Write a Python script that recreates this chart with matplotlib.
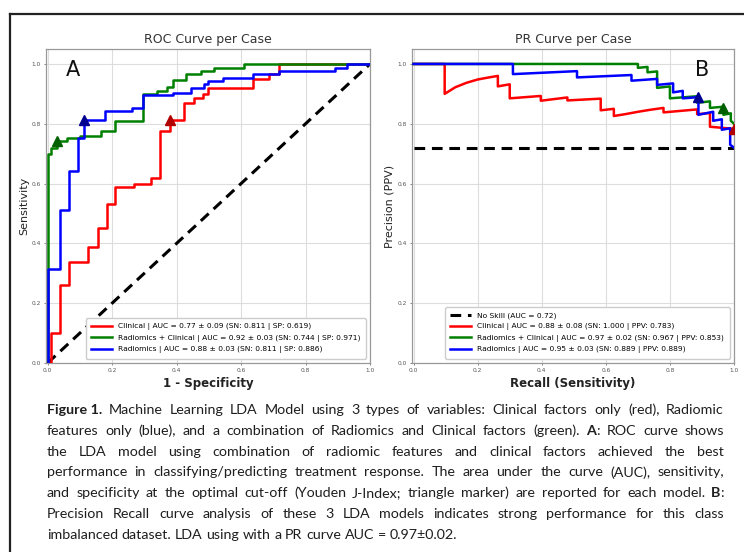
import matplotlib
matplotlib.use("Agg")
import matplotlib.pyplot as plt
from matplotlib.lines import Line2D

# ---------------- data ----------------
ticks = [0.0, 0.2, 0.4, 0.6, 0.8, 1.0]

roc_clin_fpr = [0, 0.01, 0.01, 0.037, 0.037, 0.066, 0.066, 0.125, 0.125, 0.155, 0.155, 0.183, 0.183,
                0.21, 0.21, 0.267, 0.267, 0.32, 0.32, 0.348, 0.348, 0.381, 0.381, 0.423, 0.423, 0.453,
                0.453, 0.481, 0.481, 0.497, 0.497, 0.636, 0.636, 0.686, 0.686, 0.718, 0.718, 1.0]
roc_clin_tpr = [0, 0, 0.10, 0.10, 0.26, 0.26, 0.337, 0.337, 0.387, 0.387, 0.453, 0.453, 0.533,
                0.533, 0.59, 0.59, 0.60, 0.60, 0.62, 0.62, 0.777, 0.777, 0.811, 0.811, 0.87, 0.87,
                0.887, 0.887, 0.90, 0.90, 0.92, 0.92, 0.95, 0.95, 0.967, 0.967, 1.0, 1.0]

roc_comb_fpr = [0, 0, 0.012, 0.012, 0.029, 0.029, 0.06, 0.06, 0.10, 0.10, 0.165, 0.165, 0.21, 0.21,
                0.295, 0.295, 0.34, 0.34, 0.37, 0.37, 0.39, 0.39, 0.43, 0.43, 0.475, 0.475, 0.516,
                0.516, 0.61, 0.61, 1.0]
roc_comb_tpr = [0, 0.70, 0.70, 0.72, 0.72, 0.744, 0.744, 0.752, 0.752, 0.76, 0.76, 0.777, 0.777, 0.81,
                0.81, 0.90, 0.90, 0.91, 0.91, 0.923, 0.923, 0.947, 0.947, 0.967, 0.967, 0.977, 0.977,
                0.987, 0.987, 1.0, 1.0]

roc_rad_fpr = [0, 0, 0.038, 0.038, 0.066, 0.066, 0.095, 0.095, 0.114, 0.114, 0.178, 0.178, 0.263,
               0.263, 0.295, 0.295, 0.388, 0.388, 0.444, 0.444, 0.484, 0.484, 0.497, 0.497, 0.543,
               0.543, 0.636, 0.636, 0.718, 0.718, 0.89, 0.89, 0.93, 0.93, 1.0]
roc_rad_tpr = [0, 0.313, 0.313, 0.51, 0.51, 0.643, 0.643, 0.753, 0.753, 0.811, 0.811, 0.843, 0.843,
               0.853, 0.853, 0.897, 0.897, 0.903, 0.903, 0.92, 0.92, 0.933, 0.933, 0.943, 0.943,
               0.953, 0.953, 0.967, 0.967, 0.977, 0.977, 0.987, 0.987, 1.0, 1.0]

roc_opt_fpr = {"clin": 0.381, "comb": 0.029, "rad": 0.114}
roc_opt_tpr = {"clin": 0.811, "comb": 0.744, "rad": 0.811}

pr_clin_rec = [0, 0.097, 0.097, 0.13, 0.165, 0.20, 0.235, 0.263, 0.263, 0.30, 0.30, 0.397, 0.397,
               0.48, 0.48, 0.584, 0.584, 0.625, 0.625, 0.66, 0.70, 0.74, 0.78, 0.78, 0.885, 0.885,
               0.925, 0.925, 1.0]
pr_clin_prec = [1.0, 1.0, 0.90, 0.922, 0.937, 0.948, 0.955, 0.96, 0.925, 0.932, 0.885, 0.893, 0.877,
                0.888, 0.878, 0.884, 0.845, 0.85, 0.826, 0.832, 0.84, 0.847, 0.853, 0.838, 0.848,
                0.832, 0.836, 0.79, 0.783]

pr_comb_rec = [0, 0.70, 0.70, 0.73, 0.73, 0.76, 0.76, 0.80, 0.80, 0.885, 0.885, 0.925, 0.925, 0.967,
               0.967, 0.99, 0.99, 1.0]
pr_comb_prec = [1.0, 1.0, 0.987, 0.99, 0.972, 0.975, 0.92, 0.925, 0.885, 0.892, 0.87, 0.875, 0.853,
                0.857, 0.83, 0.835, 0.81, 0.80]

pr_rad_rec = [0, 0.31, 0.31, 0.51, 0.51, 0.68, 0.68, 0.76, 0.76, 0.81, 0.81, 0.84, 0.84, 0.889,
              0.889, 0.935, 0.935, 0.962, 0.962, 0.988, 0.988, 1.0]
pr_rad_prec = [1.0, 1.0, 0.966, 0.976, 0.955, 0.963, 0.944, 0.95, 0.93, 0.935, 0.905, 0.91, 0.885,
               0.889, 0.83, 0.84, 0.81, 0.815, 0.78, 0.785, 0.73, 0.72]

pr_opt_rec = {"clin": 1.0, "comb": 0.967, "rad": 0.889}
pr_opt_prec = {"clin": 0.783, "comb": 0.853, "rad": 0.889}

no_skill = 0.72

roc_labels = {
    "clin": "Clinical | AUC = 0.77 \u00b1 0.09 (SN: 0.811 | SP: 0.619)",
    "comb": "Radiomics + Clinical | AUC = 0.92 \u00b1 0.03 (SN: 0.744 | SP: 0.971)",
    "rad": "Radiomics | AUC = 0.88 \u00b1 0.03 (SN: 0.811 | SP: 0.886)",
}
pr_labels = {
    "skill": "No Skill (AUC = 0.72)",
    "clin": "Clinical | AUC = 0.88 \u00b1 0.08 (SN: 1.000 | PPV: 0.783)",
    "comb": "Radiomics + Clinical | AUC = 0.97 \u00b1 0.02 (SN: 0.967 | PPV: 0.853)",
    "rad": "Radiomics | AUC = 0.95 \u00b1 0.03 (SN: 0.889 | PPV: 0.889)",
}

caption_lines = [
    [[("Figure 1.", "bold")], "Machine Learning LDA Model using 3 types of variables: Clinical factors only (red), Radiomic"],
    "features only (blue), and a combination of Radiomics and Clinical factors (green). @A: ROC curve shows",
    "the LDA model using combination of radiomic features and clinical factors achieved the best",
    "performance in classifying/predicting treatment response. The area under the curve (AUC), sensitivity,",
    "and specificity at the optimal cut-off (Youden J-Index; triangle marker) are reported for each model. @B:",
    "Precision Recall curve analysis of these 3 LDA models indicates strong performance for this class",
    "imbalanced dataset. LDA using with a PR curve AUC = 0.97\u00b10.02.",
]

# ---------------- figure ----------------
W, H = 744, 552
fig = plt.figure(figsize=(W / 100, H / 100), dpi=100)
fig.patch.set_facecolor("white")

# page border (left and top)
fig.add_artist(Line2D([10 / W, 10 / W], [0, 1 - 14 / H], color="#222222", lw=1.6))
fig.add_artist(Line2D([10 / W, 1], [1 - 14 / H, 1 - 14 / H], color="#222222", lw=1.6))

axL = fig.add_axes([46 / W, 1 - 363 / H, 324 / W, 314 / H])
axR = fig.add_axes([412 / W, 1 - 363 / H, 322 / W, 314 / H])

colors = {"clin": "red", "comb": "green", "rad": "blue"}
mcolors = {"clin": "#b00000", "comb": "#006000", "rad": "#000090"}

for ax in (axL, axR):
    ax.set_xlim(-0.005, 1.0)
    ax.set_ylim(0, 1.05)
    ax.set_xticks(ticks)
    ax.set_yticks(ticks)
    ax.set_xticklabels([f"{t:.1f}" for t in ticks])
    ax.set_yticklabels([f"{t:.1f}" for t in ticks])
    ax.tick_params(labelsize=4.2, length=1.5, width=0.5, colors="#555555", pad=2)
    ax.grid(True, color="#dddddd", lw=0.8)
    ax.set_axisbelow(True)
    for s in ax.spines.values():
        s.set_color("#999999")
        s.set_linewidth(0.9)

leg_kw = dict(loc="lower right", fontsize=5.4, frameon=True, handlelength=2.8, borderpad=0.7,
              labelspacing=0.55, framealpha=1, edgecolor="#cccccc", borderaxespad=0.6)

# ROC
axL.plot([0, 1], [0, 1], color="black", ls=(0, (3.5, 2.2)), lw=2.2, zorder=2)
axL.plot(roc_clin_fpr, roc_clin_tpr, color=colors["clin"], lw=1.8, label=roc_labels["clin"], zorder=3)
axL.plot(roc_comb_fpr, roc_comb_tpr, color=colors["comb"], lw=1.8, label=roc_labels["comb"], zorder=3)
axL.plot(roc_rad_fpr, roc_rad_tpr, color=colors["rad"], lw=1.8, label=roc_labels["rad"], zorder=4)
for k in ("clin", "comb", "rad"):
    axL.plot(roc_opt_fpr[k], roc_opt_tpr[k], marker="^", ms=7, color=mcolors[k], ls="none", zorder=5)
axL.set_title("ROC Curve per Case", fontsize=9, pad=4, color="#333333")
axL.set_xlabel("1 - Specificity", fontsize=8.5, fontweight="bold", labelpad=3, color="#222222")
axL.set_ylabel("Sensitivity", fontsize=8, labelpad=2, color="#222222")
axL.text(0.078, 0.98, "A", fontsize=15, ha="center", va="center", color="#111111")
axL.legend(**leg_kw)

# PR
axR.plot([0, 1], [no_skill, no_skill], color="black", ls=(0, (3.5, 2.2)), lw=2.2, label=pr_labels["skill"], zorder=2)
axR.plot(pr_clin_rec, pr_clin_prec, color=colors["clin"], lw=1.8, label=pr_labels["clin"], zorder=3)
axR.plot(pr_comb_rec, pr_comb_prec, color=colors["comb"], lw=1.8, label=pr_labels["comb"], zorder=3)
axR.plot(pr_rad_rec, pr_rad_prec, color=colors["rad"], lw=1.8, label=pr_labels["rad"], zorder=4)
for k in ("clin", "comb", "rad"):
    axR.plot(pr_opt_rec[k], pr_opt_prec[k], marker="^", ms=7, color=mcolors[k], ls="none", zorder=5)
axR.set_title("PR Curve per Case", fontsize=9, pad=4, color="#333333")
axR.set_xlabel("Recall (Sensitivity)", fontsize=8.5, fontweight="bold", labelpad=3, color="#222222")
axR.set_ylabel("Precision (PPV)", fontsize=8, labelpad=2, color="#222222")
axR.text(0.90, 0.98, "B", fontsize=15, ha="center", va="center", color="#111111")
axR.legend(**leg_kw)

# ---------------- caption (justified) ----------------
CAP_FONT = ["Lato", "DejaVu Sans"]
CAP_SIZE = 10.3
CAP_COLOR = "#1e1e1e"
X0, X1 = 47, 724
Y_FIRST, DY = 410, 20.8

renderer = fig.canvas.get_renderer()


def parse_words(line):
    words = []
    items = line if isinstance(line, list) else [line]
    for it in items:
        if isinstance(it, list):
            words.append(it)
        else:
            for w in it.split(" "):
                if w.startswith("@"):
                    words.append([(w[1], "bold"), (w[2:], "normal")])
                else:
                    words.append([(w, "normal")])
    return words


def twidth(s, wt):
    t = fig.text(0, 0, s, fontsize=CAP_SIZE, fontweight=wt, family=CAP_FONT)
    w = t.get_window_extent(renderer).width
    t.remove()
    return w


space_w = twidth("a a", "normal") - twidth("aa", "normal")

for i, line in enumerate(caption_lines):
    words = parse_words(line)
    y = 1 - (Y_FIRST + i * DY) / H
    widths = []
    for word in words:
        widths.append(sum(twidth(s, wt) for s, wt in word if s))
    justify = i < len(caption_lines) - 1
    if justify and len(words) > 1:
        gap = (X1 - X0 - sum(widths)) / (len(words) - 1)
    else:
        gap = space_w
    x = X0
    for word, w in zip(words, widths):
        xx = x
        for s, wt in word:
            if not s:
                continue
            fig.text(xx / W, y, s, fontsize=CAP_SIZE, fontweight=wt, family=CAP_FONT,
                     color=CAP_COLOR, va="center", ha="left")
            xx += twidth(s, wt)
        x += w + gap

fig.savefig("out.png", dpi=100, facecolor="white")
